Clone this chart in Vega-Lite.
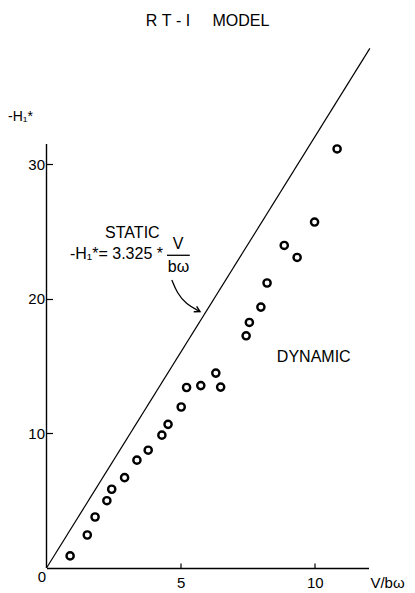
{
  "$schema": "https://vega.github.io/schema/vega-lite/v6.json",
  "width": 322,
  "height": 525,
  "autosize": "none",
  "padding": {"left": 46.5, "top": 43, "right": 46.5, "bottom": 25},
  "background": "white",
  "title": {"text": "R\u00a0T\u00a0-\u00a0I\u00a0\u00a0\u00a0\u00a0\u00a0MODEL", "fontSize": 16, "fontWeight": "normal", "font": "Liberation Sans", "anchor": "middle", "baseline": "alphabetic", "offset": 1.5, "color": "black"},
  "datasets": {
    "points": [
      {"v": 0.88, "h": 0.9}, {"v": 1.52, "h": 2.45}, {"v": 1.81, "h": 3.79}, {"v": 2.25, "h": 5.0},
      {"v": 2.43, "h": 5.85}, {"v": 2.91, "h": 6.71}, {"v": 3.37, "h": 8.01}, {"v": 3.79, "h": 8.75},
      {"v": 4.3, "h": 9.87}, {"v": 4.53, "h": 10.67}, {"v": 5.02, "h": 11.96}, {"v": 5.22, "h": 13.41},
      {"v": 5.75, "h": 13.55}, {"v": 6.31, "h": 14.48}, {"v": 6.49, "h": 13.44}, {"v": 7.44, "h": 17.25},
      {"v": 7.56, "h": 18.24}, {"v": 7.99, "h": 19.38}, {"v": 8.22, "h": 21.17}, {"v": 8.86, "h": 23.96},
      {"v": 9.34, "h": 23.07}, {"v": 9.99, "h": 25.7}, {"v": 10.83, "h": 31.13}
    ],
    "static": [{"v": 0, "h": 0}, {"v": 12.05, "h": 38.6}],
    "centered": [
      {"v": 3.2, "h": 24.87, "label": "STATIC"},
      {"v": 9.96, "h": 15.69, "label": "DYNAMIC"},
      {"v": 4.9, "h": 24.1, "label": "V"},
      {"v": 4.92, "h": 22.38, "label": "bω"}
    ],
    "formula": [{"v": 0.875, "h": 23.35, "label": "-H₁*= 3.325 *"}],
    "bar": [{"v": 4.49, "v2": 5.34, "h": 23.23}],
    "arrow": [
      {"v": 4.67, "h": 21.4, "o": 1},
      {"v": 4.86, "h": 20.45, "o": 2},
      {"v": 5.2, "h": 19.6, "o": 3},
      {"v": 5.72, "h": 19.05, "o": 4}
    ],
    "tip": [{"v": 5.72, "h": 19.05}],
    "origin": [{"v": 0, "h": 0, "label": "0", "top": 31.5}]
  },
  "layer": [
    {
      "data": {"name": "points"},
      "mark": {"type": "point", "filled": false, "stroke": "black", "strokeWidth": 2.4, "size": 52, "opacity": 1},
      "encoding": {
        "x": {"field": "v", "type": "quantitative",
          "scale": {"domain": [0, 12], "nice": false, "zero": true},
          "axis": {"values": [5, 10], "tickSize": -5, "labelPadding": 12, "title": "V/bω", "titleX": 340.5, "titleY": 14, "titleAlign": "center", "titleBaseline": "middle"}},
        "y": {"field": "h", "type": "quantitative",
          "scale": {"domain": [0, 39], "nice": false, "zero": true},
          "axis": {"values": [10, 20, 30], "domain": false, "tickSize": -6, "labelPadding": 8, "title": "-H₁*", "titleAngle": 0, "titleX": -26.5, "titleY": 73, "titleAlign": "center", "titleBaseline": "middle", "titleFontSize": 14}}
      }
    },
    {
      "data": {"name": "origin"},
      "mark": {"type": "rule", "color": "black", "strokeWidth": 1.4},
      "encoding": {
        "x": {"field": "v", "type": "quantitative"},
        "y": {"field": "h", "type": "quantitative"},
        "y2": {"field": "top"}
      }
    },
    {
      "data": {"name": "static"},
      "mark": {"type": "line", "color": "black", "strokeWidth": 1.2},
      "encoding": {
        "x": {"field": "v", "type": "quantitative"},
        "y": {"field": "h", "type": "quantitative"}
      }
    },
    {
      "data": {"name": "centered"},
      "mark": {"type": "text", "font": "Liberation Sans", "fontSize": 16, "color": "black", "align": "center", "baseline": "middle"},
      "encoding": {
        "x": {"field": "v", "type": "quantitative"},
        "y": {"field": "h", "type": "quantitative"},
        "text": {"field": "label"}
      }
    },
    {
      "data": {"name": "formula"},
      "mark": {"type": "text", "font": "Liberation Sans", "fontSize": 16, "color": "black", "align": "left", "baseline": "middle"},
      "encoding": {
        "x": {"field": "v", "type": "quantitative"},
        "y": {"field": "h", "type": "quantitative"},
        "text": {"field": "label"}
      }
    },
    {
      "data": {"name": "bar"},
      "mark": {"type": "rule", "color": "black", "strokeWidth": 1.3},
      "encoding": {
        "x": {"field": "v", "type": "quantitative"},
        "x2": {"field": "v2"},
        "y": {"field": "h", "type": "quantitative"}
      }
    },
    {
      "data": {"name": "arrow"},
      "mark": {"type": "line", "color": "black", "strokeWidth": 1.3, "interpolate": "basis"},
      "encoding": {
        "x": {"field": "v", "type": "quantitative"},
        "y": {"field": "h", "type": "quantitative"},
        "order": {"field": "o"}
      }
    },
    {
      "data": {"name": "tip"},
      "mark": {"type": "point", "shape": "M-1.4,-0.8L0,0L-1.4,0.8", "filled": false, "stroke": "black", "strokeWidth": 1.4, "size": 60, "angle": 28, "opacity": 1},
      "encoding": {
        "x": {"field": "v", "type": "quantitative"},
        "y": {"field": "h", "type": "quantitative"}
      }
    },
    {
      "data": {"name": "origin"},
      "mark": {"type": "text", "font": "Liberation Sans", "fontSize": 15, "color": "black", "align": "center", "baseline": "middle", "dx": -4.5, "dy": 9},
      "encoding": {
        "x": {"field": "v", "type": "quantitative"},
        "y": {"field": "h", "type": "quantitative"},
        "text": {"field": "label"}
      }
    }
  ],
  "config": {
    "view": {"stroke": null},
    "font": "Liberation Sans",
    "axis": {
      "grid": false,
      "domainColor": "black",
      "domainWidth": 1.4,
      "tickColor": "black",
      "tickWidth": 1.2,
      "labelColor": "black",
      "labelFont": "Liberation Sans",
      "labelFontSize": 15,
      "titleColor": "black",
      "titleFont": "Liberation Sans",
      "titleFontSize": 15,
      "titleFontWeight": "normal"
    }
  }
}
